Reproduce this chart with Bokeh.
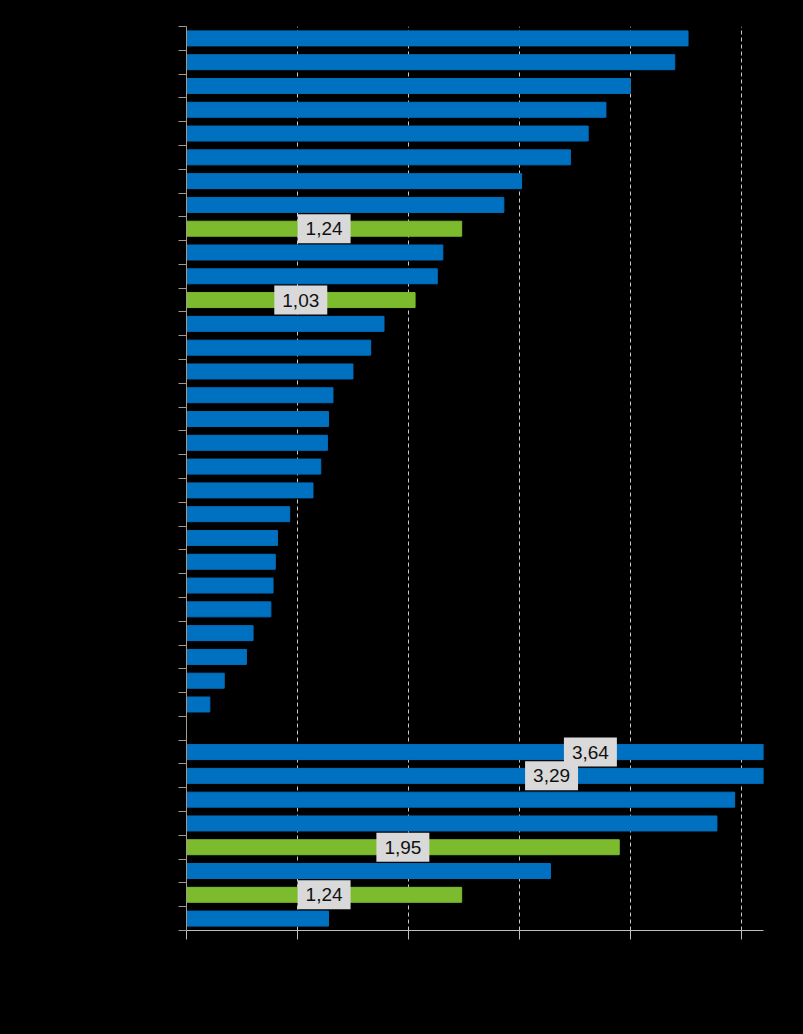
from bokeh.plotting import figure
from bokeh.models import Range1d, FixedTicker, ColumnDataSource
from bokeh.core.properties import value
from bokeh.embed import file_html
from bokeh.resources import INLINE

# Rows from top to bottom; None marks the empty separator row
values = [2.26, 2.20, 2.00, 1.89, 1.81, 1.73, 1.51, 1.43, 1.24, 1.155,
          1.13, 1.03, 0.89, 0.83, 0.75, 0.66, 0.64, 0.635, 0.605, 0.57,
          0.465, 0.41, 0.40, 0.39, 0.38, 0.30, 0.27, 0.17, 0.105, None,
          3.64, 3.29, 2.47, 2.39, 1.95, 1.64, 1.24, 0.64]
kinds = ["b", "b", "b", "b", "b", "b", "b", "b", "g", "b",
         "b", "g", "b", "b", "b", "b", "b", "b", "b", "b",
         "b", "b", "b", "b", "b", "b", "b", "b", "b", None,
         "b", "b", "b", "b", "g", "b", "g", "b"]
labels = ["", "", "", "", "", "", "", "", "1,24", "",
          "", "1,03", "", "", "", "", "", "", "", "",
          "", "", "", "", "", "", "", "", "", "",
          "3,64", "3,29", "", "", "1,95", "", "1,24", ""]
x_ticks = [0, 0.5, 1.0, 1.5, 2.0, 2.5]

BLUE = "#0070C0"
GREEN = "#7CBB2E"
n = len(values)

ys, xs, cols = [], [], []
lx, ly, lt = [], [], []
for i, v in enumerate(values):
    if v is None:
        continue
    y = n - i - 0.5
    ys.append(y)
    xs.append(v)
    cols.append(GREEN if kinds[i] == "g" else BLUE)
    if labels[i]:
        lx.append(v / 2)
        ly.append(y)
        lt.append(labels[i])

bars = ColumnDataSource(dict(y=ys, x=xs, c=cols))
labs = ColumnDataSource(dict(x=lx, y=ly, t=lt))

p = figure(width=795, height=1026, output_backend="svg", toolbar_location=None,
           x_range=Range1d(0, 2.6), y_range=Range1d(0, n),
           min_border_left=186, min_border_right=32, min_border_top=26,
           min_border_bottom=96)
p.background_fill_color = "black"
p.border_fill_color = "black"
p.outline_line_color = None

p.hbar(y="y", right="x", left=0, height=0.63, color="c", source=bars)

p.text(x="x", y="y", text="t", source=labs, text_align="center",
       text_baseline="middle", text_font=value("Liberation Sans"),
       text_font_size="19px", text_color="#111111",
       background_fill_color="#D9D9D9",
       padding=dict(left=8, right=8, top=8, bottom=8))

# axes
p.xaxis.ticker = FixedTicker(ticks=x_ticks)
p.xaxis.major_label_overrides = {t: "" for t in x_ticks}
p.xaxis.axis_line_color = "#BFBFBF"
p.xaxis.major_tick_line_color = "#BFBFBF"
p.xaxis.major_tick_out = 9
p.xaxis.major_tick_in = 0
p.xaxis.minor_tick_line_color = None

y_ticks = list(range(0, n + 1))
p.yaxis.ticker = FixedTicker(ticks=y_ticks)
p.yaxis.major_label_overrides = {t: "" for t in y_ticks}
p.yaxis.axis_line_color = "#A39A8C"
p.yaxis.major_tick_line_color = "#A39A8C"
p.yaxis.major_tick_out = 8
p.yaxis.major_tick_in = 0
p.yaxis.minor_tick_line_color = None

p.ygrid.grid_line_color = None
p.xgrid.ticker = FixedTicker(ticks=x_ticks[1:])
p.xgrid.grid_line_color = "#C8C8C8"
p.xgrid.grid_line_dash = "4 3"
p.xgrid.grid_line_width = 1

html = file_html(p, INLINE)
html = html.replace("<head>", "<head><style>html,body{background:#000;}</style>", 1)
open("out.html", "w").write(html)
